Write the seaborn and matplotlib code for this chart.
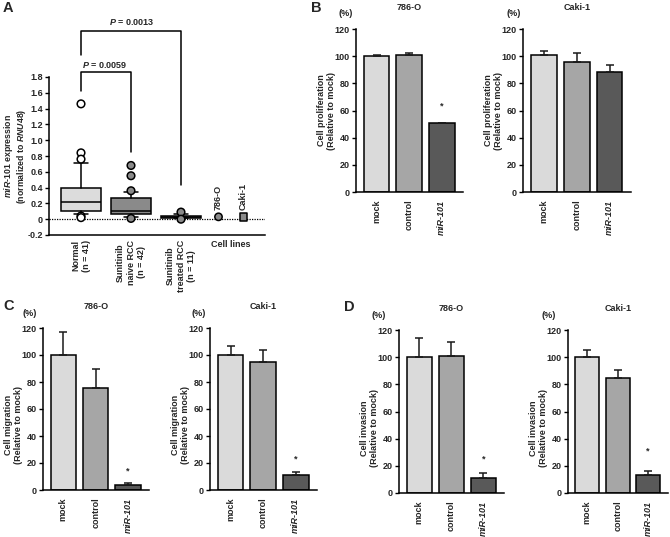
import numpy as np
import pandas as pd
import seaborn as sns
import matplotlib as mpl
mpl.use('Agg')
import matplotlib.pyplot as plt

# ---- panel A: box summaries
groups = ['Normal\n(n = 41)', 'Sunitinib\nnaive RCC\n(n = 42)', 'Sunitinib\ntreated RCC\n(n = 11)']
q1 = [0.10, 0.06, 0.015]
med = [0.22, 0.11, 0.03]
q3 = [0.40, 0.27, 0.045]
whis_lo = [0.06, 0.03, 0.01]
whis_hi = [0.71, 0.34, 0.06]
normal_out = [1.46, 0.84, 0.76, 0.04, 0.02]
naive_out = [0.68, 0.55, 0.36, 0.01]
treated_out = [0.09, 0.0]
cell_names = ['786-O', 'Caki-1']
cell_vals = [0.03, 0.03]
p_labels = ['0.0059', '0.0013']

# ---- panels B-D: bars (mean) and upper error
conds = ['mock', 'control', 'miR-101']
prolif_786 = [100, 101, 50.5]
prolif_786_err = [0.6, 1.3, 0.6]
prolif_caki = [101, 96, 88.5]
prolif_caki_err = [3, 6.5, 5]
migr_786 = [100, 75.5, 4]
migr_786_err = [17, 14, 1]
migr_caki = [100, 94.5, 11]
migr_caki_err = [6.5, 9, 2.5]
inv_786 = [100, 101, 11]
inv_786_err = [14, 10.5, 3.5]
inv_caki = [100, 85, 13.5]
inv_caki_err = [5, 5.5, 2.5]

W, H = 670, 537
sns.set_theme(style='ticks')
plt.rcParams['font.family'] = ['Liberation Sans', 'DejaVu Sans']
plt.rcParams['font.weight'] = 'bold'
plt.rcParams['axes.labelweight'] = 'bold'
plt.rcParams['axes.titleweight'] = 'bold'
plt.rcParams['font.size'] = 6.5
plt.rcParams['mathtext.fontset'] = 'custom'
plt.rcParams['mathtext.it'] = 'Liberation Sans:italic:bold'
plt.rcParams['mathtext.rm'] = 'Liberation Sans:bold'
plt.rcParams['mathtext.bf'] = 'Liberation Sans:bold'

fig = plt.figure(figsize=(W / 100, H / 100), dpi=100)


def px_rect(x0, x1, ytop, ybot):
    return [x0 / W, 1 - ybot / H, (x1 - x0) / W, (ybot - ytop) / H]


def style_axes(ax):
    for s in ['top', 'right']:
        ax.spines[s].set_visible(False)
    for s in ['left', 'bottom']:
        ax.spines[s].set_linewidth(1.1)
        ax.spines[s].set_color('black')
    ax.tick_params(axis='y', length=3, width=1, color='black', pad=1.5, labelsize=6.5)
    ax.tick_params(axis='x', length=0, labelsize=6.5)


# ================= A
axA = fig.add_axes(px_rect(49, 265, 77, 235))
box_pos = [1, 2, 3]
stats = []
for i in range(3):
    stats.append(dict(med=med[i], q1=q1[i], q3=q3[i], whislo=whis_lo[i], whishi=whis_hi[i], fliers=[]))
bp = axA.bxp(stats, positions=box_pos, widths=0.8, patch_artist=True, showfliers=False,
             capwidths=0.28,
             boxprops=dict(linewidth=1.1, edgecolor='black'),
             medianprops=dict(color='black', linewidth=1.1),
             whiskerprops=dict(color='black', linewidth=1.1),
             capprops=dict(color='black', linewidth=1.1))
for patch, c in zip(bp['boxes'], ['#dcdcdc', '#8a8a8a', '#8a8a8a']):
    patch.set_facecolor(c)

out_df = pd.DataFrame({
    'x': [1] * len(normal_out) + [2] * len(naive_out) + [3] * len(treated_out),
    'y': normal_out + naive_out + treated_out,
    'grp': ['n'] * len(normal_out) + ['t'] * (len(naive_out) + len(treated_out)),
})
sns.scatterplot(data=out_df, x='x', y='y', hue='grp', palette={'n': 'white', 't': '#8a8a8a'},
                edgecolor='black', linewidth=1.1, s=30, legend=False, ax=axA, zorder=4, clip_on=False)
cell_df = pd.DataFrame({'x': [3.75, 4.25], 'y': cell_vals, 'name': cell_names})
sns.scatterplot(data=cell_df, x='x', y='y', style='name', markers={'786-O': 'o', 'Caki-1': 's'},
                color='#8a8a8a', edgecolor='black', linewidth=1.1, s=28, legend=False, ax=axA, zorder=4)
for xx, nm in zip(cell_df['x'], cell_names):
    axA.text(xx, 0.12, nm, rotation=90, ha='center', va='bottom', fontsize=6.5)

axA.axhline(0, color='black', linestyle=(0, (1, 1)), linewidth=0.9, zorder=1)
axA.set_xlim(0.36, 4.68)
axA.set_ylim(-0.2, 1.8)
yt = np.round(np.arange(-0.2, 1.81, 0.2), 1)
axA.set_yticks(yt)
axA.set_yticklabels(['0' if v == 0 else f'{v:.1f}' for v in yt])
axA.set_xticks([1, 2, 3, 4])
axA.set_xticklabels(groups + ['Cell lines'], rotation=90, va='top', ha='center', multialignment='center')
lab4 = axA.get_xticklabels()[3]
lab4.set_rotation(0)
lab4.set_va('top')
axA.set_xlabel('')
axA.set_ylabel(r'$\mathit{miR}$-$\mathit{101}$ expression' + '\n' + r'(normalized to $\mathit{RNU48}$)',
               fontsize=6.3, linespacing=1.0)
axA.yaxis.set_label_coords(-21 / 216, 0.5)
style_axes(axA)
axA.tick_params(axis='x', pad=3.5)

# significance brackets
br1_x = [1, 1, 2, 2]
br1_y = [1.62, 1.86, 1.86, 0.85]
br2_x = [1, 1, 3, 3]
br2_y = [2.08, 2.38, 2.38, 0.43]
axA.plot(br1_x, br1_y, color='black', linewidth=1.1, clip_on=False)
axA.plot(br2_x, br2_y, color='black', linewidth=1.1, clip_on=False)
axA.text(1.47, 1.95, r'$P$ = ' + p_labels[0], ha='center', va='center', fontsize=6.5, clip_on=False)
axA.text(2.02, 2.5, r'$P$ = ' + p_labels[1], ha='center', va='center', fontsize=6.5, clip_on=False)

# ================= B, C, D
bar_colors = {'mock': '#dadada', 'control': '#a6a6a6', 'miR-101': '#595959'}


def bar_panel(rect, vals, errs, title, ylab, star, lab_y, pct):
    ax = fig.add_axes(px_rect(*rect))
    df = pd.DataFrame({'cond': conds, 'val': vals})
    sns.barplot(data=df, x='cond', y='val', hue='cond', palette=bar_colors, width=0.78,
                edgecolor='black', linewidth=1.1, errorbar=None, legend=False, ax=ax)
    ax.errorbar(np.arange(3), vals, yerr=[np.zeros(3), errs], fmt='none', ecolor='#1a1a1a',
                elinewidth=1.1, capsize=2.8, capthick=1.1, zorder=3)
    if star is not None:
        ax.text(2, star, '*', ha='center', va='center', fontsize=6.5)
    ax.set_xlim(-0.63, 2.65)
    ax.set_ylim(0, 120)
    ax.set_yticks(range(0, 121, 20))
    ax.set_xlabel('')
    ax.set_ylabel(ylab, fontsize=6.5, linespacing=1.1)
    width_px = rect[1] - rect[0]
    ax.yaxis.set_label_coords(-20 / width_px, lab_y)
    ax.set_title(title, pad=14, fontsize=6.5)
    ax.set_xticks([0, 1, 2])
    ax.set_xticklabels(conds, rotation=90, va='top', ha='center')
    ax.get_xticklabels()[2].set_fontstyle('italic')
    style_axes(ax)
    ax.tick_params(axis='x', pad=5.5)
    fig.text(pct[0] / W, 1 - pct[1] / H, '(%)', ha='center', va='center', fontsize=6.5)
    return ax


prolif_lab = 'Cell proliferation\n(Relative to mock)'
migr_lab = 'Cell migration\n(Relative to mock)'
inv_lab = 'Cell invasion\n(Relative to mock)'

bar_panel((356, 463, 29, 192), prolif_786, prolif_786_err, '786-O', prolif_lab, 63, 0.5, (346, 13))
bar_panel((523, 631, 29, 192), prolif_caki, prolif_caki_err, 'Caki-1', prolif_lab, None, 0.5, (514, 13))
bar_panel((43, 149, 328, 490), migr_786, migr_786_err, '786-O', migr_lab, 14, 0.4, (30, 313))
bar_panel((210, 317, 328, 490), migr_caki, migr_caki_err, 'Caki-1', migr_lab, 23, 0.4, (199, 313))
bar_panel((399, 504, 330, 493), inv_786, inv_786_err, '786-O', inv_lab, 25, 0.4, (379, 315))
bar_panel((568, 668, 330, 493), inv_caki, inv_caki_err, 'Caki-1', inv_lab, 31, 0.4, (549, 315))

# panel letters
for letter, (lx, ly) in zip('ABCD', [(3, 8), (311, 8), (3, 306), (344, 307)]):
    fig.text(lx / W, 1 - ly / H, letter, ha='left', va='center', fontsize=10.5, fontweight='bold')

fig.savefig('out.png', dpi=100)
